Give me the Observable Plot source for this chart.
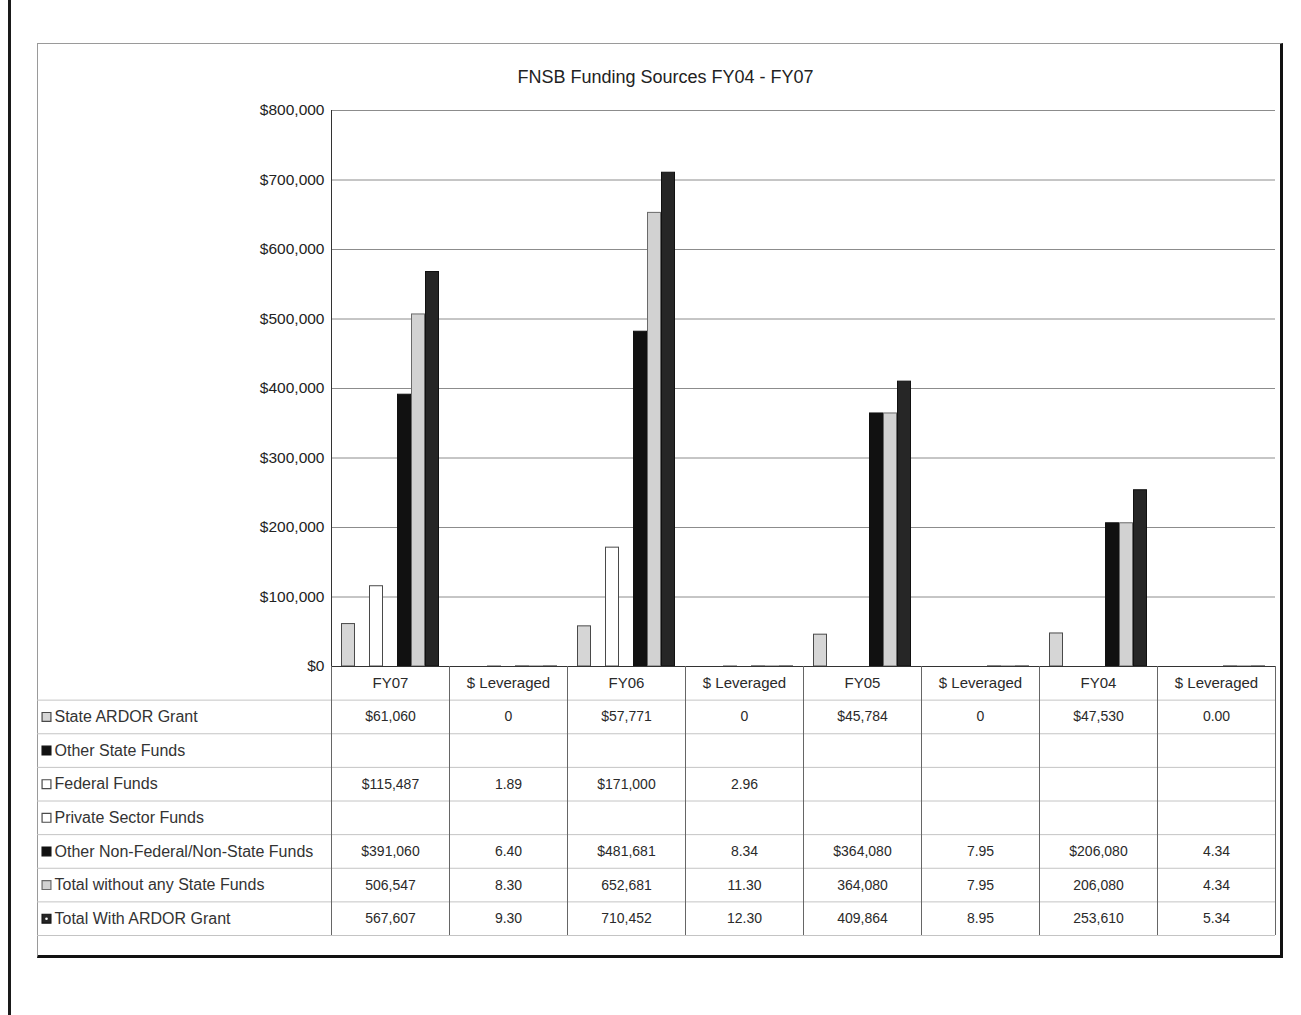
<!DOCTYPE html>
<html>
<head>
<meta charset="utf-8">
<script src="https://cdn.jsdelivr.net/npm/d3@7"></script>
<script src="https://cdn.jsdelivr.net/npm/@observablehq/plot@0.6"></script>
<style>
  body { margin: 0; background: #fff; width: 1301px; height: 1015px; position: relative; overflow: hidden;
         font-family: "Liberation Sans", Arial, sans-serif; }
  #scanline { position: absolute; left: 8px; top: 0; width: 3px; height: 1015px; background: #1a1a1a; }
  #frame { position: absolute; left: 37px; top: 43px; width: 1242px; height: 911px;
           border-left: 1px solid #9a9a9a; border-top: 1px solid #9a9a9a;
           border-right: 3px solid #111; border-bottom: 3px solid #111; }
  #title { position: absolute; left: 37px; width: 1257px; top: 67px; text-align: center;
           font-size: 18px; color: #222; }
  #chart { position: absolute; left: 0; top: 95px; }
  #table { position: absolute; left: 0; top: 666px; }
</style>
</head>
<body>
<div id="scanline"></div>
<div id="frame"></div>
<div id="title">FNSB Funding Sources FY04 - FY07</div>
<div id="chart"></div>
<div id="table"></div>
<script>
// ---------- data ----------
const columns = ["FY07", "$ Leveraged", "FY06", "$ Leveraged", "FY05", "$ Leveraged", "FY04", "$ Leveraged"];
const series = [
  "State ARDOR Grant",
  "Other State Funds",
  "Federal Funds",
  "Private Sector Funds",
  "Other Non-Federal/Non-State Funds",
  "Total without any State Funds",
  "Total With ARDOR Grant"
];
// dollar columns (one value per series, null = empty cell)
const fy07 = [61060, null, 115487, null, 391060, 506547, 567607];
const fy06 = [57771, null, 171000, null, 481681, 652681, 710452];
const fy05 = [45784, null, null, null, 364080, 364080, 409864];
const fy04 = [47530, null, null, null, 206080, 206080, 253610];
// "$ Leveraged" columns, as printed
const lev07 = ["0", null, "1.89", null, "6.40", "8.30", "9.30"];
const lev06 = ["0", null, "2.96", null, "8.34", "11.30", "12.30"];
const lev05 = ["0", null, null, null, "7.95", "7.95", "8.95"];
const lev04 = ["0.00", null, null, null, "4.34", "4.34", "5.34"];
const yTicks = [0, 100000, 200000, 300000, 400000, 500000, 600000, 700000, 800000];

// ---------- styles ----------
const FONT = '"Liberation Sans", Arial, sans-serif';
const FILL   = ["#d6d6d6", "#111111", "#ffffff", "#ffffff", "#111111", "#d2d2d2", "#262626"];
const STROKE = ["#4a4a4a", "#111111", "#4a4a4a", "#4a4a4a", "#111111", "#6a6a6a", "#111111"];

// ---------- derived tables ----------
const columnValues = [fy07, lev07, fy06, lev06, fy05, lev05, fy04, lev04];
const columnKeys = columns.map((c, i) => c === "$ Leveraged" ? columns[i - 1] + " $" : c);
const money = d3.format(",");

const bars = [];
const cells = [];
columnValues.forEach((vals, i) => {
  const isLev = columns[i] === "$ Leveraged";
  vals.forEach((v, j) => {
    if (v == null) return;
    const value = +v;
    bars.push({key: columnKeys[i], series: series[j], j, value});
    const text = isLev ? v : (j < 5 ? "$" + money(value) : money(value));
    cells.push({col: i, row: j, text});
  });
});

// ---------- layout ----------
const W = 1301;
const plotLeft = 331, plotRight = 1275, frameLeft = 37;
const nCols = columns.length;
const labelSpan = (plotLeft - frameLeft) / ((plotRight - plotLeft) / nCols);

// ---------- bar chart ----------
const chart = Plot.plot({
  width: W, height: 573,
  marginLeft: plotLeft, marginRight: W - plotRight, marginTop: 15, marginBottom: 2,
  style: {background: "transparent", fontFamily: FONT, color: "#222", overflow: "visible"},
  fx: {domain: columnKeys, padding: 0, axis: null, label: null},
  x: {domain: series, paddingInner: 0, paddingOuter: 0.63, axis: null},
  y: {domain: [0, 800000]},
  color: {type: "identity"},
  marks: [
    Plot.gridY(yTicks, {stroke: "#8c8c8c", strokeOpacity: 1}),
    Plot.axisY(yTicks, {tickSize: 0, tickPadding: 7, fontSize: 15.5, label: null,
      tickFormat: d => "$" + money(d), fill: "#222"}),
    Plot.barY(bars, {fx: "key", x: "series", y: "value",
      fill: d => FILL[d.j], stroke: d => STROKE[d.j], strokeWidth: 1, insetLeft: 0.5, insetRight: 0.5}),
    Plot.ruleY([0], {stroke: "#333"}),
    Plot.frame({anchor: "left", fx: columnKeys[0], stroke: "#333"})
  ]
});
document.getElementById("chart").append(chart);

// ---------- data table ----------
const nRows = series.length + 1; // header + series rows
const table = Plot.plot({
  width: W, height: 271,
  marginLeft: frameLeft, marginRight: W - plotRight, marginTop: 0, marginBottom: 2,
  style: {background: "transparent", fontFamily: FONT, color: "#222", overflow: "visible"},
  x: {domain: [-labelSpan, nCols], axis: null},
  y: {domain: [0, nRows], reverse: true, axis: null},
  marks: [
    Plot.ruleY(d3.range(1, nRows + 1), {stroke: "#c4c4c4"}),
    Plot.ruleX(d3.range(0, nCols + 1), {y1: 0, y2: nRows, stroke: "#666"}),
    Plot.text(columns, {x: (d, i) => i + 0.5, y: 0.5, text: d => d, fontSize: 15, fill: "#2a2a2a"}),
    Plot.text(cells, {x: d => d.col + 0.5, y: d => d.row + 1.5, text: "text", fontSize: 14, fill: "#2a2a2a"}),
    Plot.dot(series, {x: -labelSpan, y: (d, i) => i + 1.5, symbol: "square", r: 5,
      fill: (d, i) => FILL[i], stroke: (d, i) => STROKE[i], strokeWidth: 1.2, dx: 9}),
    Plot.dot(series.slice(-1), {x: -labelSpan, y: series.length + 0.5, r: 1.3, fill: "#fff", dx: 9}),
    Plot.text(series, {x: -labelSpan, y: (d, i) => i + 1.5, text: d => d, textAnchor: "start",
      dx: 17, fontSize: 16, fill: "#333"})
  ]
});
document.getElementById("table").append(table);
</script>
</body>
</html>
